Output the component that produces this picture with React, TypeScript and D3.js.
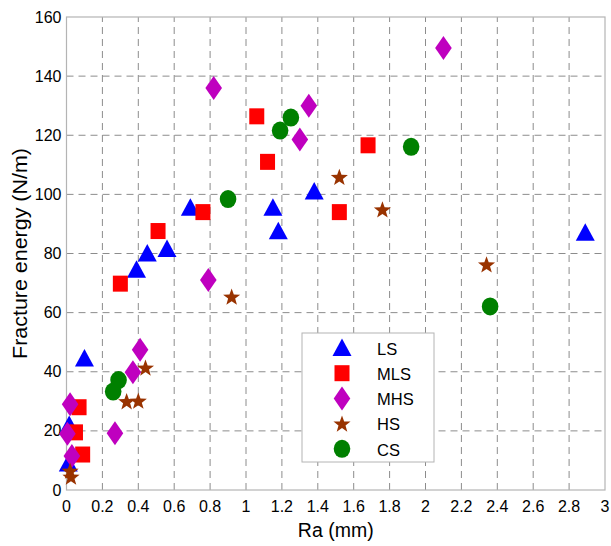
import React from "react";
import * as d3 from "d3";

// Ra (mm) vs fracture energy (N/m)
const lsX = [0.01, 0.015, 0.1, 0.39, 0.45, 0.56, 0.69, 1.15, 1.18, 1.38, 2.89];
const lsY = [9, 22, 44.5, 74.5, 80, 81.5, 95.5, 95.5, 87.5, 101, 87];

const mlsX = [0.07, 0.05, 0.09, 0.3, 0.51, 0.76, 1.06, 1.12, 1.68, 1.52];
const mlsY = [28, 19.5, 12, 69.8, 87.6, 94, 126.4, 111, 116.6, 94];

const mhsX = [0.02, 0.005, 0.03, 0.27, 0.37, 0.41, 0.79, 0.82, 1.35, 1.3, 2.1];
const mhsY = [29, 19, 11.5, 19.2, 39.8, 47.4, 71, 136, 130, 118.6, 149.5];

const hsX = [0.02, 0.025, 0.335, 0.4, 0.44, 0.92, 1.52, 1.76, 2.34];
const hsY = [6.5, 4.5, 30, 30.2, 41.4, 65.4, 105.9, 94.9, 76.3];

const csX = [0.26, 0.29, 0.9, 1.19, 1.25, 1.92, 2.36];
const csY = [33.3, 37.2, 98.4, 121.6, 126, 116.1, 62.1];

const seriesNames = ["LS", "MLS", "MHS", "HS", "CS"];
const seriesColors = ["#0000ff", "#ff0000", "#bf00bf", "#993300", "#008000"];

const xTicks = d3.range(0, 3.01, 0.2).map(v => +v.toFixed(1));
const yTicks = [0, 20, 40, 60, 80, 100, 120, 140, 160];

const W = 611, H = 546;
const margin = { top: 17, left: 66.5, right: 6, bottom: 56 };
const font = "'Liberation Sans', Arial, sans-serif";

function marker(kind: string, color: string) {
  if (kind === "LS") return <path d="M0,-9.5L9.5,8L-9.5,8Z" fill={color} />;
  if (kind === "MLS") return <rect x={-7.5} y={-8} width={15} height={16} fill={color} />;
  if (kind === "MHS") return <path d="M0,-12L8.3,0L0,12L-8.3,0Z" fill={color} />;
  if (kind === "HS") {
    const pts = d3.range(10).map(i => {
      const r = i % 2 === 0 ? 9 : 3.7;
      const a = -Math.PI / 2 + (i * Math.PI) / 5;
      return [r * Math.cos(a), r * Math.sin(a) + 0.8];
    });
    return <path d={"M" + pts.map(p => p.join(",")).join("L") + "Z"} fill={color} />;
  }
  return <ellipse rx={8.3} ry={9} fill={color} />;
}

export default function App() {
  const iw = W - margin.left - margin.right;
  const ih = H - margin.top - margin.bottom;
  const x = d3.scaleLinear().domain([0, 3]).range([margin.left, margin.left + iw]);
  const y = d3.scaleLinear().domain([0, 160]).range([margin.top + ih, margin.top]);

  const series = [
    { name: "LS", xs: lsX, ys: lsY },
    { name: "MLS", xs: mlsX, ys: mlsY },
    { name: "MHS", xs: mhsX, ys: mhsY },
    { name: "HS", xs: hsX, ys: hsY },
    { name: "CS", xs: csX, ys: csY },
  ];

  const gridColor = "#8c8c8c";
  const boxColor = "#b4b4b4";
  const legX = 302, legY = 333, legW = 132, legH = 129;

  return (
    <svg width={W} height={H} style={{ position: "absolute", left: 0, top: 0, background: "#fff" }}
      fontFamily={font}>
      <rect x={0} y={0} width={W} height={H} fill="#fff" />
      {/* grid */}
      {xTicks.slice(1, -1).map(t => (
        <line key={"gx" + t} x1={x(t)} x2={x(t)} y1={y(0)} y2={y(160)}
          stroke={gridColor} strokeDasharray="7,5" strokeWidth={1} />
      ))}
      {yTicks.slice(1, -1).map(t => (
        <line key={"gy" + t} x1={x(0)} x2={x(3)} y1={y(t)} y2={y(t)}
          stroke={gridColor} strokeDasharray="7,5" strokeWidth={1} />
      ))}
      <rect x={x(0)} y={y(160)} width={iw} height={ih} fill="none" stroke={boxColor} strokeWidth={1.2} />

      {/* tick labels */}
      {xTicks.map(t => (
        <text key={"tx" + t} x={x(t)} y={y(0) + 22} textAnchor="middle" fontSize={16} fill="#000">
          {String(t)}
        </text>
      ))}
      {yTicks.map(t => (
        <text key={"ty" + t} x={x(0) - 5} y={y(t)} dy="0.35em" textAnchor="end" fontSize={16} fill="#000">
          {String(t)}
        </text>
      ))}
      <text x={x(1.5)} y={537} textAnchor="middle" fontSize={19.5} fill="#000">Ra (mm)</text>
      <text transform={`translate(26.5,${(y(0) + y(160)) / 2}) rotate(-90) scale(1.1,1)`} textAnchor="middle"
        fontSize={19.5} fill="#000">Fracture energy (N/m)</text>

      {/* points */}
      {series.map((s, si) => (
        <g key={s.name}>
          {s.xs.map((v, i) => (
            <g key={i} transform={`translate(${x(v)},${y(s.ys[i])})`}>
              {marker(s.name, seriesColors[si])}
            </g>
          ))}
        </g>
      ))}

      {/* legend */}
      <rect x={legX} y={legY} width={legW} height={legH} fill="#fff" stroke={boxColor} strokeWidth={1} />
      {seriesNames.map((n, i) => (
        <g key={"lg" + n} transform={`translate(0,${legY + 15 + i * 25.2})`}>
          <g transform={`translate(${legX + 40},0)`}>{marker(n, seriesColors[i])}</g>
          <text x={legX + 75} y={1} dy="0.35em" fontSize={16.5} fill="#000">{n}</text>
        </g>
      ))}
    </svg>
  );
}
